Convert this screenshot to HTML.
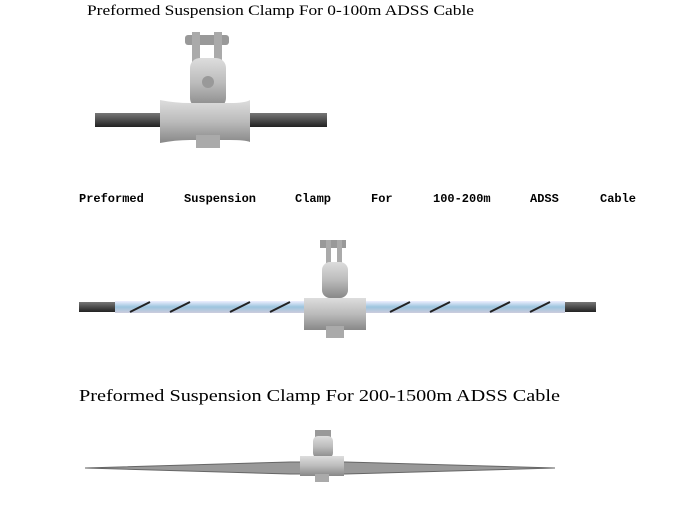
<!DOCTYPE html>
<html><head><style>
html,body{margin:0;padding:0;background:#fff;width:690px;height:505px;overflow:hidden}
</style></head><body>
<svg width="690" height="505" viewBox="0 0 690 505" xmlns="http://www.w3.org/2000/svg">
<defs>
<linearGradient id="cab" x1="0" y1="0" x2="0" y2="1"><stop offset="0" stop-color="#777"/><stop offset=".4" stop-color="#555"/><stop offset="1" stop-color="#222"/></linearGradient>
<linearGradient id="met" x1="0" y1="0" x2="0" y2="1"><stop offset="0" stop-color="#ddd"/><stop offset=".5" stop-color="#bbb"/><stop offset="1" stop-color="#888"/></linearGradient>
<linearGradient id="wrap" x1="0" y1="0" x2="0" y2="1"><stop offset="0" stop-color="#eef"/><stop offset=".5" stop-color="#9cc4de"/><stop offset="1" stop-color="#ccd"/></linearGradient>
</defs>
<g font-family="Liberation Serif, serif" fill="#000">
<text x="87" y="15" font-size="15" textLength="387" lengthAdjust="spacingAndGlyphs">Preformed Suspension Clamp For 0-100m ADSS Cable</text>
<g font-size="12" font-weight="bold" font-family="Liberation Mono, monospace">
<text x="79" y="202">Preformed</text><text x="184" y="202">Suspension</text><text x="295" y="202">Clamp</text><text x="371" y="202">For</text><text x="433" y="202">100-200m</text><text x="530" y="202">ADSS</text><text x="600" y="202">Cable</text>
</g>
<text x="79" y="401" font-size="17" textLength="481" lengthAdjust="spacingAndGlyphs">Preformed Suspension Clamp For 200-1500m ADSS Cable</text>
</g>
<!-- clamp 1 -->
<rect x="95" y="113" width="232" height="14" fill="url(#cab)"/>
<rect x="185" y="35" width="44" height="10" rx="3" fill="#999"/>
<rect x="192" y="32" width="8" height="30" fill="#aaa"/><rect x="214" y="32" width="8" height="30" fill="#aaa"/>
<rect x="190" y="58" width="36" height="50" rx="10" fill="url(#met)"/>
<circle cx="208" cy="82" r="6" fill="#999"/>
<path d="M160 100 Q175 103 190 103 L230 103 Q245 103 250 100 L250 142 Q245 140 230 140 L190 140 Q175 140 160 143 Z" fill="url(#met)"/>
<rect x="196" y="135" width="24" height="13" fill="#aaa"/>
<!-- clamp 2 -->
<rect x="79" y="302" width="517" height="10" fill="url(#cab)"/>
<rect x="115" y="301" width="450" height="12" fill="url(#wrap)"/>
<g stroke="#222" stroke-width="2">
<path d="M130 312 L150 302 M170 312 L190 302 M230 312 L250 302 M270 312 L290 302 M390 312 L410 302 M430 312 L450 302 M490 312 L510 302 M530 312 L550 302"/>
</g>
<rect x="320" y="240" width="26" height="8" fill="#999"/>
<rect x="326" y="240" width="5" height="25" fill="#aaa"/><rect x="337" y="240" width="5" height="25" fill="#aaa"/>
<rect x="322" y="262" width="26" height="36" rx="8" fill="url(#met)"/>
<path d="M304 298 L366 298 L366 330 L304 330 Z" fill="url(#met)"/>
<rect x="326" y="326" width="18" height="12" fill="#aaa"/>
<!-- clamp 3 -->
<path d="M85 468 L290 462 L345 462 L555 468 L345 474 L290 474 Z" fill="#999" stroke="#666"/>
<rect x="315" y="430" width="16" height="8" fill="#999"/>
<rect x="313" y="436" width="20" height="22" rx="5" fill="url(#met)"/>
<rect x="300" y="456" width="44" height="20" fill="url(#met)"/>
<rect x="315" y="474" width="14" height="8" fill="#aaa"/>
</svg>
</body></html>
